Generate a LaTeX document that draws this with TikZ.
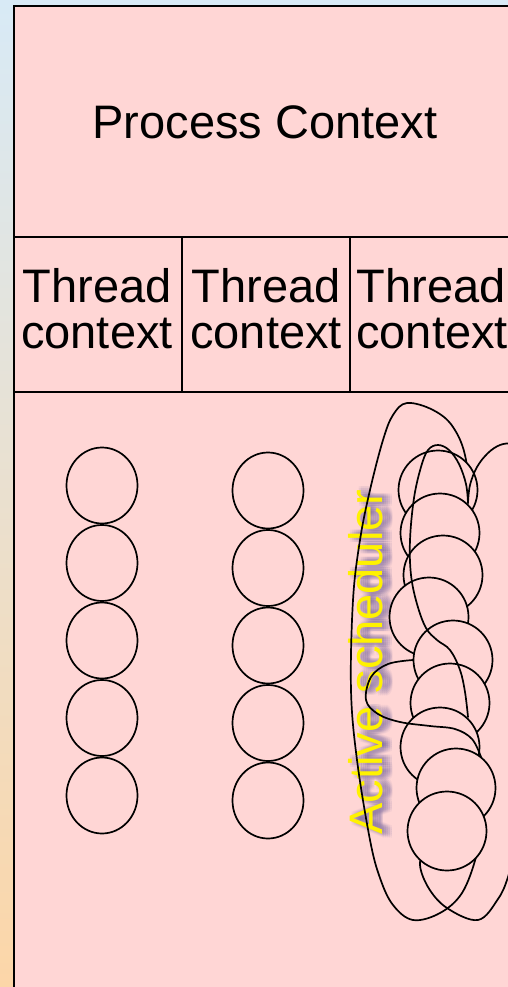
\documentclass[tikz,border=0pt]{standalone}
\usepackage{fontspec}
\setmainfont{Liberation Sans}
\usetikzlibrary{shapes.geometric}
\definecolor{bgtop}{RGB}{216,234,246}
\definecolor{bgmid}{RGB}{232,228,222}
\definecolor{bgbot}{RGB}{252,214,168}
\definecolor{pinkbg}{RGB}{255,214,213}
\definecolor{shadowc}{RGB}{90,80,150}
\begin{document}
\begin{tikzpicture}[x=1pt,y=-1pt,
  txt/.style={font=\fontsize{47}{54}\selectfont, inner sep=0pt, anchor=base},
  bead/.style={draw=black, fill=pinkbg, line width=1.7pt, ellipse, inner sep=0pt, minimum width=71pt, minimum height=76pt},
  ring/.style={draw=black, fill=pinkbg, line width=1.7pt, circle, inner sep=0pt, minimum size=79pt},
  scrib/.style={draw=black, line width=1.7pt, line join=round, line cap=round},
  frame/.style={draw=black, line width=1.6pt}]
\useasboundingbox (0,0) rectangle (508,987);
\clip (0,0) rectangle (508,987);
\shade[top color=bgtop, middle color=bgmid, bottom color=bgbot] (0,0) rectangle (508,987);
\fill[pinkbg] (14,6) rectangle (530,1000);
\draw[line width=2.1pt] (530,6) -- (14,6) -- (14,1000);
\draw[frame] (14,237) -- (530,237);
\draw[frame] (14,392) -- (530,392);
\draw[frame] (182,237) -- (182,392);
\draw[frame] (350,237) -- (350,392);
% texts
\node[txt] (proc) at (265,139) {Process Context};
\node[txt] (t1a) at (97,302) {Thread};
\node[txt] (t1b) at (97,348) {context};
\node[txt] (t2a) at (266,302) {Thread};
\node[txt] (t2b) at (266,348) {context};
\node[txt] (t3a) at (431,302) {Thread};
\node[txt] (t3b) at (432,348) {context};
% shadow + active scheduler
\foreach \dx in {2,4,6,8,10} {
  \foreach \dy in {-4,-2,0,2,4} {
    \node[txt, rotate=90, text=shadowc, opacity=0.06] (sh\dx\dy) at (382+\dx,662+\dy) {Active scheduler};
  }
}
\node[txt, rotate=90, text=yellow] (act) at (382,662) {Active scheduler};
% big tall loop (under everything in column 3)
\draw[scrib] plot[smooth cycle, tension=0.6] coordinates {(407,403) (433,410) (453,427) (466,460) (470,520) (466,610) (471,690) (479,770) (479,830) (476,857) (462,893) (440,913) (413,920) (393,905) (380,878) (370,840) (357,760) (351,690) (353,600) (360,540) (370,490) (383,440) (393,415)};
% bottom of second loop (under c9)
\draw[scrib] plot[smooth, tension=0.6] coordinates {(432,845) (420,862) (428,887) (447,908) (478,920) (498,899) (508,877) (516,845)};
% column 1
\foreach \i/\y in {1/485.5,2/563,3/640.5,4/718,5/795.5} {
  \node[bead] (a\i) at (102,\y) {};
}
% column 2
\foreach \i/\y in {1/490.5,2/568,3/645.5,4/723,5/800.5} {
  \node[bead] (b\i) at (268,\y) {};
}
% column 3 (stacked)
\node[ring] (c1) at (438,490) {};
\draw[scrib] plot[smooth, tension=0.6] coordinates {(468,503) (470,485) (477,467) (488,453) (500,445) (512,444) (524,451)};
\node[ring] (c2) at (440,533) {};
\node[ring] (c3) at (443,575) {};
\node[ring] (c4) at (429,617) {};
\node[ring] (c5) at (453,660) {};
\node[ring] (c6) at (450,703) {};
\draw[scrib] plot[smooth, tension=0.6] coordinates {(468,503) (466,484) (459,464) (449,450) (438,445) (428,450) (421,467) (414,498) (410,540) (411,575) (417,604) (426,628) (437,640) (450,650) (460,670) (465,692) (468,717)};
\node[ring] (c7) at (440,747) {};
\draw[scrib] plot[smooth, tension=0.6] coordinates {(413,660) (388,664) (371,677) (366,700) (378,714) (400,722) (430,726) (455,729) (472,739) (481,757)};
\node[ring] (c8) at (456,788) {};
\node[ring] (c9) at (447,831) {};
\end{tikzpicture}
\end{document}
